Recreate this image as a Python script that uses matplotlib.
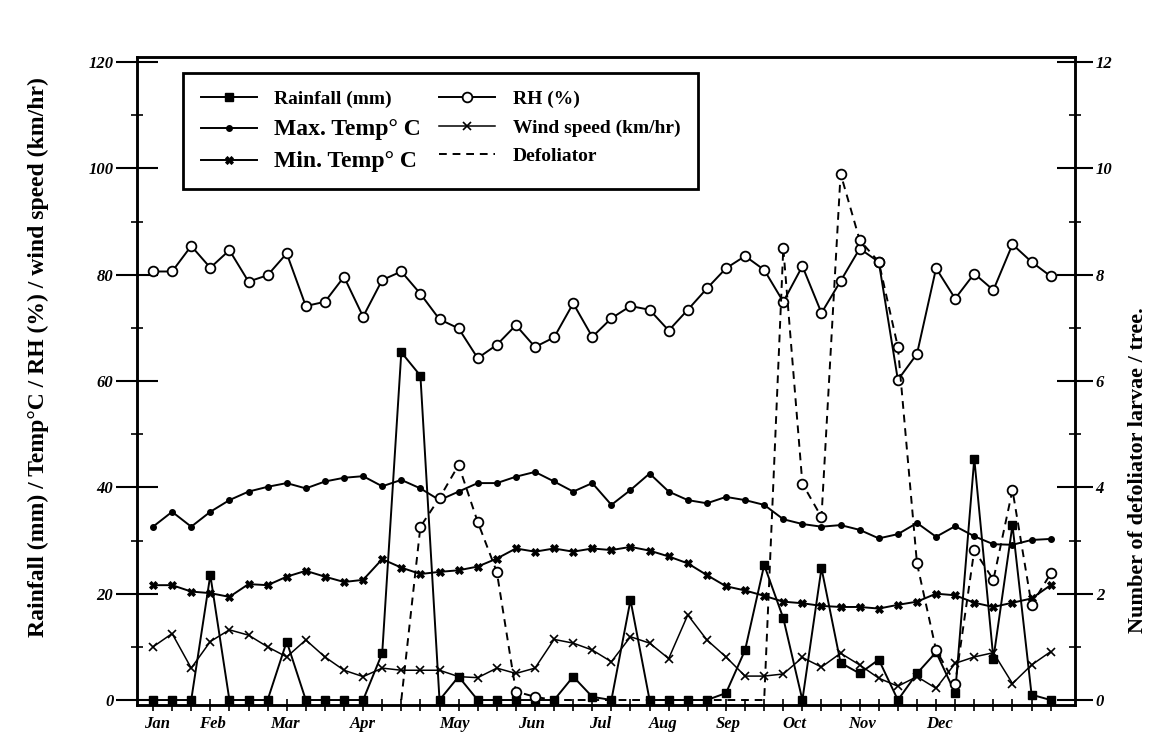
import matplotlib
matplotlib.use("Agg")
import matplotlib.pyplot as plt
from matplotlib.lines import Line2D
import numpy as np

# weekly observations, 4 weeks per month (Jan .. Dec)
WEEKS = np.arange(48)
MONTHS = ["Jan", "Feb", "Mar", "Apr", "May", "Jun", "Jul", "Aug", "Sep", "Oct", "Nov", "Dec"]
MONTH_POS = [0.2, 3.1, 6.9, 11.0, 15.8, 19.8, 23.4, 26.7, 30.1, 33.6, 37.1, 41.2]

RAINFALL = [0, 0, 0, 23.5, 0, 0, 0, 11, 0, 0, 0, 0,
            8.8, 65.4, 61, 0, 4.4, 0, 0, 0, 0, 0, 4.4, 0.6,
            0, 18.8, 0, 0, 0, 0, 1.3, 9.4, 25.4, 15.4, 0, 24.8,
            7, 5, 7.6, 0, 5, 9, 1.3, 45.4, 7.8, 32.9, 1, 0]
TMAX = [32.6, 35.4, 32.6, 35.4, 37.6, 39.2, 40.1, 40.8, 39.8, 41.1, 41.8, 42.1,
        40.2, 41.4, 39.8, 37.6, 39.2, 40.8, 40.8, 42.0, 42.9, 41.1, 39.2, 40.8,
        36.7, 39.5, 42.6, 39.2, 37.6, 37.0, 38.2, 37.6, 36.7, 34.0, 33.1, 32.6,
        32.9, 32.0, 30.4, 31.2, 33.3, 30.7, 32.7, 30.8, 29.3, 29.2, 30.1, 30.3]
TMIN = [21.6, 21.6, 20.4, 20.1, 19.4, 21.8, 21.6, 23.2, 24.3, 23.2, 22.2, 22.6,
        26.5, 24.9, 23.7, 24.1, 24.4, 25.1, 26.6, 28.5, 27.9, 28.5, 27.9, 28.5,
        28.2, 28.8, 28.1, 27.0, 25.7, 23.5, 21.4, 20.6, 19.6, 18.5, 18.2, 17.7,
        17.5, 17.5, 17.2, 17.9, 18.5, 20.0, 19.7, 18.3, 17.5, 18.3, 19.1, 21.6]
RH = [80.6, 80.6, 85.4, 81.3, 84.6, 78.7, 79.9, 84.0, 74.1, 74.9, 79.6, 72.1,
      79.0, 80.6, 76.4, 71.6, 69.9, 64.3, 66.8, 70.5, 66.4, 68.2, 74.6, 68.3,
      71.8, 74.1, 73.4, 69.5, 73.4, 77.4, 81.2, 83.5, 80.9, 74.9, 81.6, 72.8,
      78.8, 84.9, 82.4, 60.2, 65.1, 81.2, 75.5, 80.2, 77.1, 85.7, 82.4, 79.7]
WIND = [10, 12.5, 6, 11, 13.2, 12.2, 10, 8.1, 11.3, 8.1, 5.6, 4.4,
        6, 5.6, 5.6, 5.6, 4.4, 4.2, 6, 5, 6, 11.4, 10.7, 9.4,
        7.2, 11.9, 10.7, 7.8, 16, 11.3, 8.1, 4.5, 4.5, 4.9, 8, 6.2,
        8.8, 6.6, 4.1, 2.6, 4.4, 2.2, 6.9, 8.1, 8.9, 3.1, 6.6, 9.1]
# larvae per tree (right axis); no counts before mid-April
DEFOL = [np.nan] * 13 + [0, 3.26, 3.8, 4.42, 3.35, 2.41, 0.16, 0.06, 0, 0, 0,
                         0, 0, 0, 0, 0, 0, 0, 0, 0, 8.5, 4.07, 3.44,
                         9.9, 8.65, 8.24, 6.64, 2.57, 0.94, 0.31, 2.82, 2.26, 3.95, 1.79, 2.38]

SERIF = "Liberation Serif"

fig = plt.figure(figsize=(11.52, 7.43), dpi=100)
ax = fig.add_axes([0.1189, 0.0507, 0.8142, 0.873])
ax2 = ax.twinx()

kw = dict(color="k", lw=1.4)
l_rain, = ax.plot(WEEKS, RAINFALL, marker="s", ms=5.5, mfc="k", **kw)
l_max, = ax.plot(WEEKS, TMAX, marker="o", ms=4, mfc="k", **kw)
l_min, = ax.plot(WEEKS, TMIN, marker="X", ms=5.5, mfc="k", mew=0.6, **kw)
l_rh, = ax.plot(WEEKS, RH, marker="o", ms=7, mfc="white", mew=1.3, **kw)
l_wind, = ax.plot(WEEKS, WIND, marker="x", ms=6, mew=1.2, color="k", lw=1.1)

defol = np.array(DEFOL)
l_def, = ax2.plot(WEEKS, defol, color="k", lw=1.4, ls=(0, (4, 3)))
pos = defol > 0
ax2.plot(WEEKS[pos], defol[pos], "o", ms=7, mfc="white", mec="k", mew=1.3)

ax.set_xlim(-0.84, 48.27)
ax.set_ylim(-1, 121)
ax2.set_ylim(-0.1, 12.1)

ax.xaxis.remove_overlapping_locs = False
ax.set_xticks(WEEKS, [""] * len(WEEKS))
ax.set_xticks(MONTH_POS, MONTHS, minor=True)
ax.tick_params(axis="x", which="major", direction="inout", length=9, width=1.2)
ax.tick_params(axis="x", which="minor", length=0, pad=8)

ax.set_yticks(range(0, 121, 20))
ax.set_yticks(range(10, 120, 20), minor=True)
ax.tick_params(axis="y", which="major", direction="inout", length=30, width=1.5, pad=2)
ax.tick_params(axis="y", which="minor", direction="inout", length=8, width=1.2)

ax2.set_yticks(range(0, 13, 2))
ax2.set_yticks(range(1, 12, 2), minor=True)
ax2.tick_params(axis="y", which="major", direction="inout", length=26, width=1.5, pad=2)
ax2.tick_params(axis="y", which="minor", direction="inout", length=8, width=1.2)

for lbl in ax.get_yticklabels() + ax2.get_yticklabels() + ax.get_xticklabels(minor=True):
    lbl.set_fontfamily(SERIF)
    lbl.set_fontstyle("italic")
    lbl.set_fontweight("bold")
    lbl.set_fontsize(12)

for a in (ax, ax2):
    for s in a.spines.values():
        s.set_linewidth(1.8)

fig.text(38 / 1152, 1 - 357 / 743, "Rainfall (mm) / Temp°C / RH (%) / wind speed (km/hr)",
         rotation=90, ha="center", va="center", fontsize=17, family=SERIF, weight="bold")
fig.text(1138 / 1152, 1 - 470 / 743, "Number of defoliator larvae / tree.",
         rotation=90, ha="center", va="center", fontsize=16, family=SERIF, weight="bold")

def_handle = Line2D([], [], color="k", lw=1.4, ls=(0, (4, 3)))
leg = fig.legend([l_rain, l_max, l_min, l_rh, l_wind, def_handle],
                 ["Rainfall (mm)", "Max. Temp° C", "Min. Temp° C",
                  "RH (%)", "Wind speed (km/hr)", "Defoliator"],
                 ncol=2, loc="upper left", bbox_to_anchor=(183 / 1152, 1 - 73 / 743),
                 borderaxespad=0, fancybox=False, edgecolor="k", framealpha=1,
                 handlelength=2.9, handletextpad=0.9, columnspacing=0.9,
                 labelspacing=0.55, borderpad=0.9,
                 prop=dict(family=SERIF, weight="bold", size=14))
leg.get_frame().set_linewidth(2)
for t in leg.get_texts():
    if "Temp" in t.get_text():
        t.set_fontsize(17)

fig.savefig("out.png", dpi=100)
